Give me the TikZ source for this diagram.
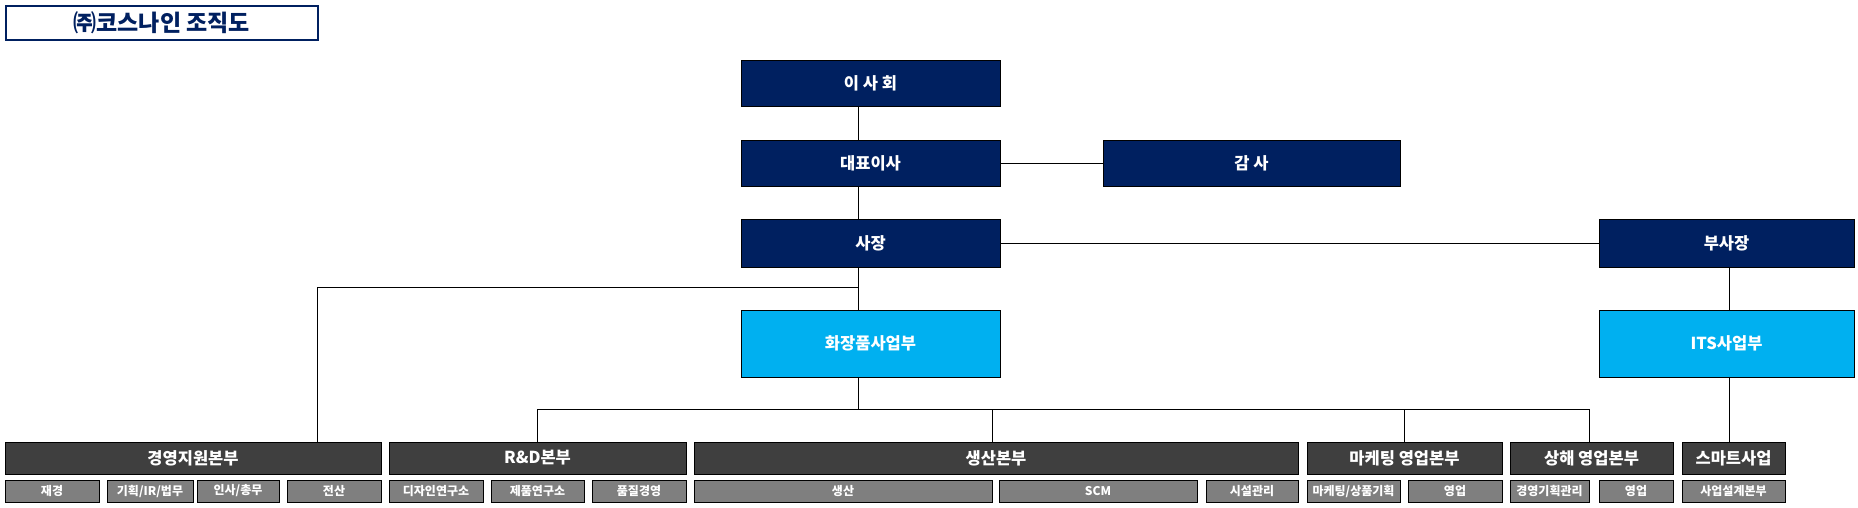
\documentclass[tikz,border=0pt]{standalone}
\usepackage{fontspec}
\setmainfont{Noto Sans CJK KR}
\usetikzlibrary{calc}
\usetikzlibrary{positioning}

\definecolor{navy}{HTML}{002060}
\definecolor{skyblue}{HTML}{00B0F0}
\definecolor{darkbox}{HTML}{3F3F3F}
\definecolor{teamgray}{HTML}{7F7F7F}

\begin{document}
\begin{tikzpicture}[x=1pt, y=-1pt,
        box/.style={rectangle, draw=black, line width=0.8pt, anchor=north west, inner sep=0pt, outer sep=0pt, text=white, font=\bfseries\fontsize{16.5}{19}\selectfont},
        topbox/.style={box, fill=navy},
        bizbox/.style={box, fill=skyblue},
        divbox/.style={box, fill=darkbox, minimum height=32pt},
        teambox/.style={box, fill=teamgray, minimum height=22pt, font=\bfseries\fontsize{12}{14}\selectfont},
        link/.style={draw=black, line width=0.8pt}]

        \useasboundingbox (0,0) rectangle (1858,508);

        % title
        \node[rectangle, draw=navy, line width=1.6pt, fill=white, anchor=north west, minimum width=312pt, minimum height=34pt, text=navy, font=\bfseries\fontsize{23}{26}\selectfont] (title) at (5,5) {㈜코스나인 조직도};

        % top management
        \node[topbox, minimum width=259pt, minimum height=46pt] (board) at (741,60) {이 사 회};
        \node[topbox, minimum width=259pt, minimum height=46pt] (ceo) at (741,140) {대표이사};
        \node[topbox, minimum width=297pt, minimum height=46pt] (audit) at (1103,140) {감 사};
        \node[topbox, minimum width=259pt, minimum height=48pt] (pres) at (741,219) {사장};
        \node[topbox, minimum width=255pt, minimum height=48pt] (vp) at (1599,219) {부사장};

        % business units
        \node[bizbox, minimum width=259pt, minimum height=67pt] (cosm) at (741,310) {화장품사업부};
        \node[bizbox, minimum width=255pt, minimum height=67pt] (its) at (1599,310) {ITS사업부};

        % divisions
        \foreach \n/\xa/\w/\t in {mgmt/5/376/경영지원본부, rnd/389/297/R\&D본부, prod/694/604/생산본부, mkt/1307/195/마케팅 영업본부, sh/1510/163/상해 영업본부, smart/1682/103/스마트사업}
            \node[divbox, minimum width=\w pt] (\n) at (\xa,442) {\t};

        % teams
        \foreach \n/\xa/\w/\t in {fin/5/94/재경, plan/107/86/{기획/IR/법무}, hr/197/82/{인사/총무}, it/287/94/전산, design/389/94/디자인연구소, lab/491/93/제품연구소, qm/592/94/품질경영, make/694/298/생산, scm/999/198/SCM, fac/1206/92/시설관리, mktg/1307/93/{마케팅/상품기획}, sales/1408/94/영업, shplan/1510/79/경영기획관리, shsales/1599/74/영업, smartplan/1682/103/사업설계본부}
            \node[teambox, minimum width=\w pt] (\n) at (\xa,480) {\t};

        % spines
        \coordinate (spine) at (858,0);
        \coordinate (itsline) at (1729,0);
        \coordinate (leftbus) at (317,287);
        \coordinate (bus) at (858,409);

        % management links
        \draw[link] (board.south -| spine) -- (ceo.north -| spine);
        \draw[link] (ceo.south -| spine) -- (pres.north -| spine);
        \draw[link] (ceo) -- (audit);
        \draw[link] (pres) -- (vp);
        \draw[link] (pres.south -| spine) -- (cosm.north -| spine);
        \draw[link] (spine |- leftbus) -- (leftbus) -- (mgmt.north -| leftbus);

        % unit to divisions
        \draw[link] (cosm.south -| spine) -- (bus);
        \foreach \d/\xa in {rnd/537, prod/992, mkt/1404, sh/1589}
            \coordinate (drop \d) at (\xa,409);
        \draw[link] (drop rnd) -- (drop sh);
        \foreach \d in {rnd, prod, mkt, sh}
            \draw[link] (drop \d) -- (\d.north -| drop \d);
        \draw[link] (vp.south -| itsline) -- (its.north -| itsline);
        \draw[link] (its.south -| itsline) -- (smart.north -| itsline);

\end{tikzpicture}
\end{document}
